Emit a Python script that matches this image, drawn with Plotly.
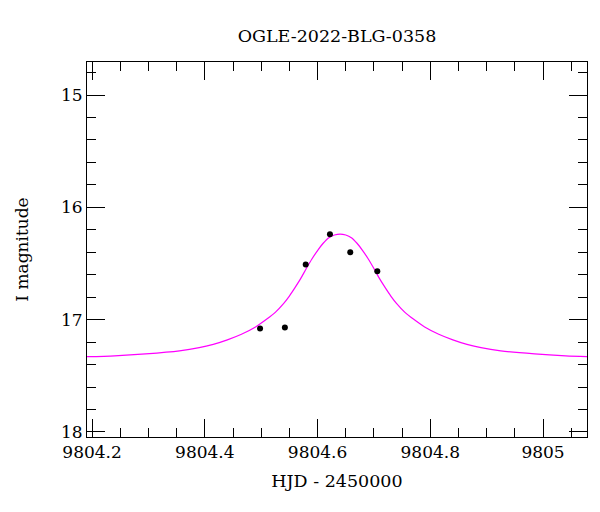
import plotly.graph_objects as go

# Observed photometry (HJD - 2450000, I magnitude)
obs_hjd = [9804.498, 9804.542, 9804.579, 9804.622, 9804.658, 9804.706]
obs_mag = [17.08, 17.07, 16.51, 16.24, 16.40, 16.57]

# Model curve
model_hjd = [9804.191, 9804.240, 9804.295, 9804.355, 9804.390, 9804.415, 9804.440,
             9804.465, 9804.490, 9804.510, 9804.525, 9804.540, 9804.550, 9804.560,
             9804.570, 9804.580, 9804.590, 9804.600, 9804.610, 9804.620, 9804.630,
             9804.640, 9804.650, 9804.660, 9804.670, 9804.680, 9804.690, 9804.700,
             9804.710, 9804.720, 9804.730, 9804.740, 9804.755, 9804.770, 9804.790,
             9804.815, 9804.840, 9804.865, 9804.890, 9804.925, 9804.985, 9805.040,
             9805.078]
model_mag = [17.330, 17.322, 17.305, 17.278, 17.250, 17.220, 17.180,
             17.130, 17.065, 16.995, 16.935, 16.855, 16.790, 16.715,
             16.635, 16.545, 16.460, 16.385, 16.320, 16.270, 16.246,
             16.238, 16.246, 16.270, 16.320, 16.385, 16.460, 16.545,
             16.635, 16.715, 16.790, 16.855, 16.935, 16.995, 17.065,
             17.130, 17.180, 17.220, 17.250, 17.278, 17.305, 17.322,
             17.329]

x_ticks = [9804.2, 9804.4, 9804.6, 9804.8, 9805.0]
x_labels = ["9804.2", "9804.4", "9804.6", "9804.8", "9805"]
y_ticks = [15, 16, 17, 18]
y_labels = ["15", "16", "17", "18"]

font_family = "DejaVu Serif"

# the page body adds an 8 px offset, so the figure is laid out 8 px up/left
OFF = 8

fig = go.Figure()
fig.add_trace(go.Scatter(x=model_hjd, y=model_mag, mode="lines",
                         line=dict(color="#ff00ff", width=1.2, shape="spline", smoothing=0.8),
                         hoverinfo="skip", showlegend=False))
fig.add_trace(go.Scatter(x=obs_hjd, y=obs_mag, mode="markers",
                         marker=dict(color="black", size=6),
                         showlegend=False))

axis_common = dict(showline=True, linecolor="black", linewidth=1, mirror="allticks",
                   ticks="inside", ticklen=18, tickwidth=1, tickcolor="black",
                   showgrid=False, zeroline=False, automargin=False,
                   tickfont=dict(family=font_family, size=17, color="black"))

fig.update_xaxes(range=[9804.191, 9805.078], tickvals=x_ticks, ticktext=x_labels,
                 minor=dict(ticks="inside", ticklen=9, dtick=0.05, tick0=9804.2,
                            tickcolor="black", tickwidth=1, showgrid=False),
                 title=dict(text="HJD - 2450000", font=dict(family=font_family, size=17.5, color="black"),
                            standoff=13),
                 **axis_common)
fig.update_yaxes(range=[18.045, 14.706], tickvals=y_ticks, ticktext=y_labels,
                 minor=dict(ticks="inside", ticklen=9, dtick=0.2, tick0=15,
                            tickcolor="black", tickwidth=1, showgrid=False),
                 title=dict(text="I magnitude", font=dict(family=font_family, size=17, color="black"),
                            standoff=28),
                 **axis_common)

fig.update_layout(
    width=600, height=512,
    margin=dict(l=87 - OFF, r=13 + OFF, t=62 - OFF, b=75 + OFF),
    paper_bgcolor="white", plot_bgcolor="white",
    title=dict(text="OGLE-2022-BLG-0358", x=(337 - OFF) / 600, xanchor="center",
               y=1 - (36 - OFF) / 512, yanchor="middle",
               font=dict(family=font_family, size=17.5, color="black")),
)

fig.write_html("out.html")
